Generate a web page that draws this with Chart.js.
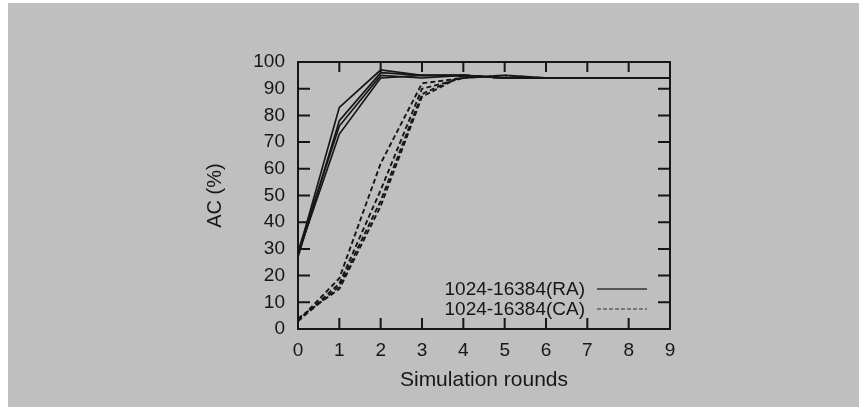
<!DOCTYPE html>
<html lang="en">
<head>
<meta charset="UTF-8">
<title>AC vs simulation rounds</title>
<script src="https://cdn.jsdelivr.net/npm/chart.js@4.4.1/dist/chart.umd.min.js"></script>
<style>
    html, body {
        margin: 0;
        padding: 0;
        background: #ffffff;
        overflow: hidden;
    }
    .frame {
        position: absolute;
        left: 8px;
        top: 3px;
        right: 0;
        bottom: 0;
        background: #bfbfbf;
    }
    #acChart {
        position: absolute;
        left: 0;
        top: 0;
    }
</style>
</head>
<body>
<div class="frame"></div>
<canvas id="acChart" width="859" height="407"></canvas>
<script>
    // data
    const rounds = [0, 1, 2, 3, 4, 5, 6, 7, 8, 9];
    const yTicks = [0, 10, 20, 30, 40, 50, 60, 70, 80, 90, 100];

    // solid runs (RA)
    const raRun1 = [28, 83, 97, 95, 95, 94, 94, 94, 94, 94];
    const raRun2 = [27, 78, 96, 95, 95, 94, 94, 94, 94, 94];
    const raRun3 = [29, 76, 95, 94, 95, 94, 94, 94, 94, 94];
    const raRun4 = [28, 73, 94, 95, 95, 94, 94, 94, 94, 94];

    // dashed runs (CA)
    const caRun1 = [3, 19, 62, 92, 94, 95, 94, 94, 94, 94];
    const caRun2 = [3, 17, 52, 90, 94, 95, 94, 94, 94, 94];
    const caRun3 = [3, 16, 48, 88, 95, 94, 94, 94, 94, 94];
    const caRun4 = [4, 15, 46, 87, 95, 94, 94, 94, 94, 94];

    const legendLabels = ['1024-16384(RA)', '1024-16384(CA)'];

    const ink = '#161616';
    const tickFont = { family: '"Liberation Sans", Arial, sans-serif', size: 19 };
    const titleFont = { family: '"Liberation Sans", Arial, sans-serif', size: 20 };

    function toPoints(arr) {
        return arr.map((v, i) => ({ x: rounds[i], y: v }));
    }

    function solid(label, arr) {
        return {
            label: label, data: toPoints(arr),
            borderColor: ink, borderWidth: 1.7, pointRadius: 0, fill: false
        };
    }

    function dashed(label, arr) {
        return {
            label: label, data: toPoints(arr),
            borderColor: ink, borderWidth: 1.9, borderDash: [5, 3], pointRadius: 0, fill: false
        };
    }

    // box, inward ticks on all four sides, and legend inside the plot
    const framePlugin = {
        id: 'frame',
        afterDraw(chart) {
            const ctx = chart.ctx;
            const area = chart.chartArea;
            const xs = chart.scales.x;
            const ys = chart.scales.y;
            ctx.save();
            ctx.strokeStyle = ink;
            ctx.lineWidth = 2;
            ctx.strokeRect(area.left, area.top, area.right - area.left, area.bottom - area.top);

            ctx.beginPath();
            xs.ticks.forEach(t => {
                const px = xs.getPixelForValue(t.value);
                ctx.moveTo(px, area.bottom);
                ctx.lineTo(px, area.bottom - 11);
                ctx.moveTo(px, area.top);
                ctx.lineTo(px, area.top + 10);
            });
            ys.ticks.forEach(t => {
                const py = ys.getPixelForValue(t.value);
                ctx.moveTo(area.left, py);
                ctx.lineTo(area.left + 12, py);
                ctx.moveTo(area.right, py);
                ctx.lineTo(area.right - 12, py);
            });
            ctx.stroke();

            // legend: text right aligned, sample line on the right
            ctx.font = '19px "Liberation Sans", Arial, sans-serif';
            ctx.textAlign = 'right';
            ctx.textBaseline = 'middle';
            const rows = [289, 309];
            legendLabels.forEach((txt, i) => {
                const y = rows[i];
                ctx.fillStyle = ink;
                ctx.fillText(txt, 585, y + 1);
                ctx.beginPath();
                ctx.lineWidth = 2;
                if (i === 0) {
                    ctx.strokeStyle = '#555555';
                    ctx.setLineDash([]);
                } else {
                    ctx.strokeStyle = '#777777';
                    ctx.setLineDash([4, 2]);
                }
                ctx.moveTo(597, y);
                ctx.lineTo(647, y);
                ctx.stroke();
            });
            ctx.restore();
        }
    };

    const chart = new Chart(document.getElementById('acChart'), {
        type: 'line',
        data: {
            datasets: [
                solid('RA run 1', raRun1),
                solid('RA run 2', raRun2),
                solid('RA run 3', raRun3),
                solid('RA run 4', raRun4),
                dashed('CA run 1', caRun1),
                dashed('CA run 2', caRun2),
                dashed('CA run 3', caRun3),
                dashed('CA run 4', caRun4)
            ]
        },
        options: {
            responsive: false,
            animation: false,
            devicePixelRatio: 1,
            layout: { padding: { left: 203, right: 189, top: 62, bottom: 14 } },
            plugins: {
                legend: { display: false },
                tooltip: { enabled: false }
            },
            elements: { line: { tension: 0 } },
            scales: {
                x: {
                    type: 'linear',
                    min: 0,
                    max: 9,
                    afterFit(scale) { scale.height = 64; },
                    grid: { display: false, drawTicks: false },
                    border: { display: false },
                    ticks: { stepSize: 1, padding: 10, color: ink, font: tickFont },
                    title: {
                        display: true,
                        text: 'Simulation rounds',
                        color: ink,
                        padding: 0,
                        font: { family: titleFont.family, size: 21 }
                    }
                },
                y: {
                    min: 0,
                    max: 100,
                    afterFit(scale) { scale.width = 95; },
                    afterBuildTicks(scale) {
                        scale.ticks = yTicks.map(v => ({ value: v }));
                    },
                    grid: { display: false, drawTicks: false },
                    border: { display: false },
                    ticks: { padding: 13, color: ink, font: tickFont },
                    title: {
                        display: true,
                        text: 'AC (%)',
                        color: ink,
                        padding: 0,
                        font: titleFont
                    }
                }
            }
        },
        plugins: [framePlugin]
    });
</script>
</body>
</html>
